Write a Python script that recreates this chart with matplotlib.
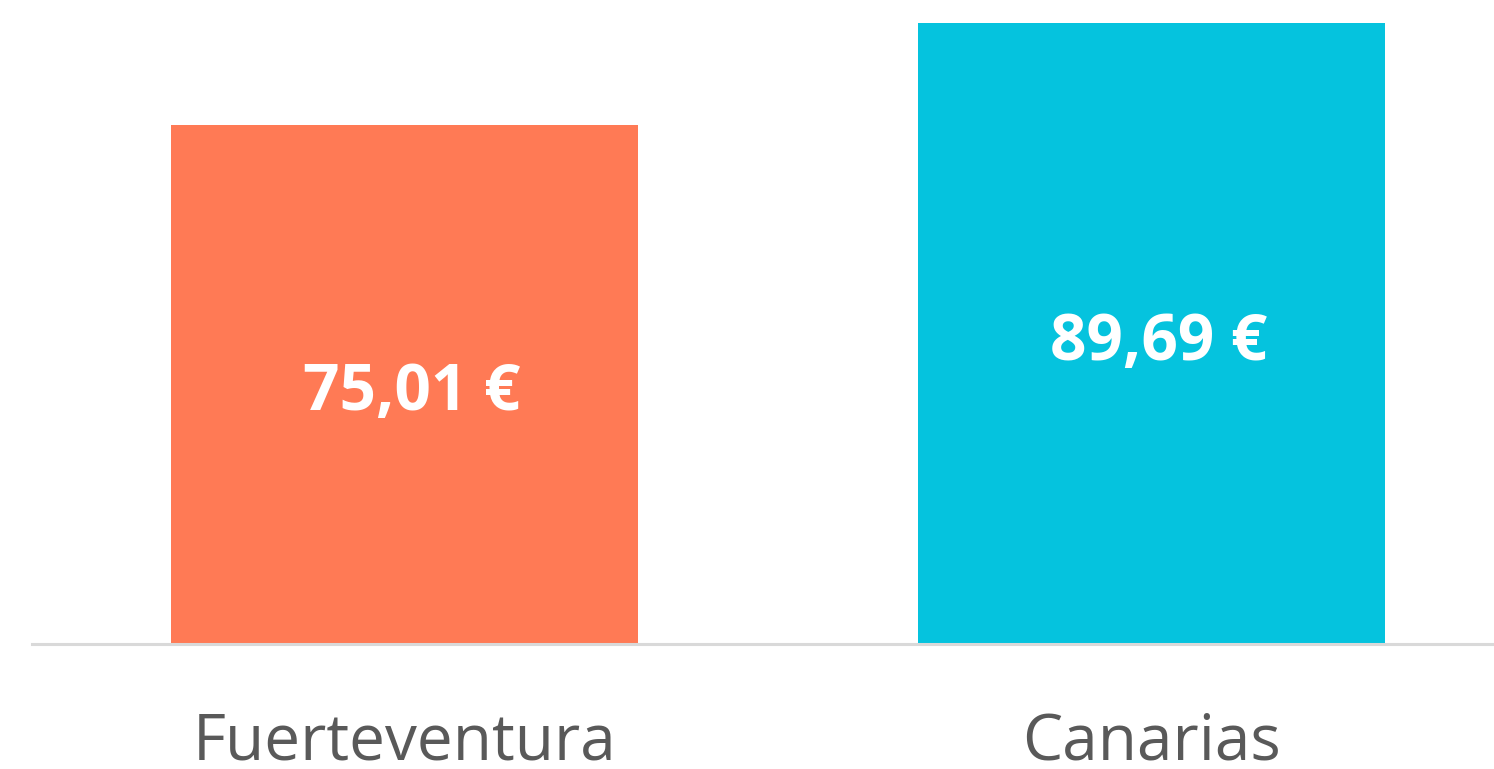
import matplotlib
matplotlib.use("Agg")
import matplotlib.pyplot as plt

categories = ["Fuerteventura", "Canarias"]
values = [75.01, 89.69]
labels = ["75,01 €", "89,69 €"]
colors = ["#FF7A55", "#05C3DE"]

plt.rcParams["font.family"] = ["Open Sans", "DejaVu Sans"]

W, H = 1494, 769
fig = plt.figure(figsize=(W / 100, H / 100), dpi=100)
ax = fig.add_axes([32 / W, 1 - 644 / H, 1 - 32 / W, 644 / H])

x = list(range(len(categories)))
ax.bar(x, values, width=0.625, color=colors, zorder=2)

# value labels, centred in each bar
for xi, v, lab in zip(x, values, labels):
    ax.text(xi + 0.01, v / 2 - 1.4, lab, ha="center", va="center",
            color="white", fontsize=46, fontweight="bold")

ax.set_xlim(-0.4987, 1.4585)
ax.set_ylim(0, 93.0)

ax.set_xticks(x)
ax.set_xticklabels(categories, fontsize=46, color="#595959")
ax.tick_params(axis="x", length=0, pad=48)
ax.set_yticks([])

for s in ["top", "right", "left"]:
    ax.spines[s].set_visible(False)
ax.spines["bottom"].set_color("#D9D9D9")
ax.spines["bottom"].set_linewidth(2.2)

fig.savefig("out.png", dpi=100)
